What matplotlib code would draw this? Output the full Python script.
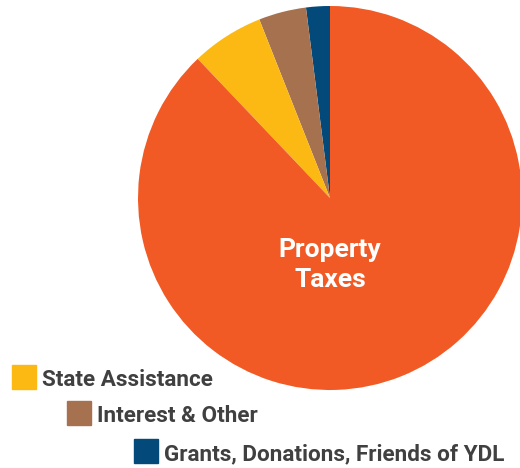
import matplotlib.pyplot as plt
from matplotlib.patches import Rectangle

# Fuentes de ingresos (porcentaje), en orden antihorario desde arriba
labels = ['Grants, Donations, Friends of YDL', 'Interest & Other', 'State Assistance', 'Property Taxes']
shares = [2.0, 4.0, 6.1, 87.9]
colors = ['#034A7A', '#A5714E', '#FDB913', '#F15A24']

# Leyenda escalonada (solo las porciones pequeñas)
legend_items = ['State Assistance', 'Interest & Other', 'Grants, Donations, Friends of YDL']

plt.rcParams['font.family'] = ['Roboto', 'DejaVu Sans']

fig = plt.figure(figsize=(5.2, 4.68), dpi=100)
ax = fig.add_axes([138 / 520, 1 - 390 / 468, 384 / 520, 384 / 468])
ax.pie(shares, colors=colors, startangle=90, counterclock=True,
       wedgeprops=dict(linewidth=0))
ax.set_xlim(-1, 1)
ax.set_ylim(-1, 1)
ax.set_aspect('auto')
ax.axis('off')

# Etiqueta de la porción grande
ax.text(0, -0.35, 'Property\nTaxes', color='white', fontsize=19, fontweight='bold',
        ha='center', va='center', linespacing=1.3)

# Leyenda manual
x_px = [12, 67, 134]
y_px = [365, 401, 439]
for name, x, y in zip(legend_items, x_px, y_px):
    c = colors[labels.index(name)]
    fig.patches.append(Rectangle((x / 520, 1 - (y + 24) / 468), 24 / 520, 24 / 468,
                                 transform=fig.transFigure, color=c))
    fig.text((x + 30) / 520, 1 - (y + 15) / 468, name, color='#404040', fontsize=16.2,
             fontweight='bold', ha='left', va='center')

fig.savefig('out.png', dpi=100)
